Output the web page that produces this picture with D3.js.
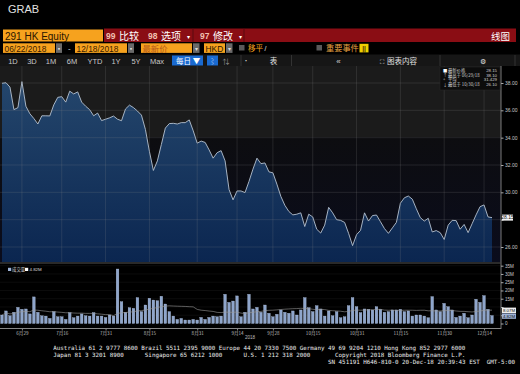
<!DOCTYPE html>
<html><head><meta charset="utf-8">
<script src="https://cdn.jsdelivr.net/npm/d3@7"></script>
<style>html,body{margin:0;padding:0;background:#000;overflow:hidden}</style>
</head><body><svg id="c" width="520" height="374"></svg>
<script>
// ---------------- DATA ----------------
const dates = [
"2018-06-22","2018-06-25","2018-06-26","2018-06-27","2018-06-28","2018-06-29",
"2018-07-03","2018-07-04","2018-07-05","2018-07-06","2018-07-09","2018-07-10","2018-07-11","2018-07-12","2018-07-13",
"2018-07-16","2018-07-17","2018-07-18","2018-07-19","2018-07-20","2018-07-23","2018-07-24","2018-07-25","2018-07-26","2018-07-27","2018-07-30","2018-07-31",
"2018-08-01","2018-08-02","2018-08-03","2018-08-06","2018-08-07","2018-08-08","2018-08-09","2018-08-10","2018-08-13","2018-08-14","2018-08-15","2018-08-16","2018-08-17",
"2018-08-20","2018-08-21","2018-08-22","2018-08-23","2018-08-24","2018-08-27","2018-08-28","2018-08-29","2018-08-30","2018-08-31",
"2018-09-03","2018-09-04","2018-09-05","2018-09-06","2018-09-07","2018-09-10","2018-09-11","2018-09-12","2018-09-13","2018-09-14",
"2018-09-17","2018-09-18","2018-09-19","2018-09-20","2018-09-21","2018-09-24","2018-09-26","2018-09-27","2018-09-28",
"2018-10-02","2018-10-03","2018-10-04","2018-10-05","2018-10-08","2018-10-09","2018-10-10","2018-10-11","2018-10-12","2018-10-15","2018-10-16",
"2018-10-18","2018-10-19","2018-10-22","2018-10-23","2018-10-24","2018-10-25","2018-10-26","2018-10-29","2018-10-30","2018-10-31",
"2018-11-01","2018-11-02","2018-11-05","2018-11-06","2018-11-07","2018-11-08","2018-11-09","2018-11-12","2018-11-13","2018-11-14","2018-11-15","2018-11-16",
"2018-11-19","2018-11-20","2018-11-21","2018-11-22","2018-11-23","2018-11-26","2018-11-27","2018-11-28","2018-11-29","2018-11-30",
"2018-12-03","2018-12-04","2018-12-05","2018-12-06","2018-12-07","2018-12-10","2018-12-11","2018-12-12","2018-12-13","2018-12-14","2018-12-17","2018-12-18"];

const prices = [
37.98,38.02,37.7,36.05,36.2,38.1,36.3,35.75,35.4,35.0,
35.6,35.6,35.59,36.4,36.95,37.0,36.6,37.4,37.2,37.35,
36.6,36.3,36.05,35.6,35.8,35.25,35.35,35.45,35.58,35.35,
35.24,36.1,36.38,36.2,35.95,35.65,34.6,33.0,31.6,32.3,
33.5,34.7,35.03,35.05,35.0,35.1,35.1,35.3,34.5,33.6,
33.75,33.65,33.1,32.5,32.9,33.05,32.3,30.2,29.45,30.1,
30.1,29.98,30.8,31.7,32.5,32.1,32.15,31.5,31.43,30.6,
29.7,29.05,28.6,28.35,28.4,28.5,27.5,28.4,28.2,27.3,
27.02,27.6,28.9,28.5,28.0,27.95,27.8,27.0,26.1,26.9,
27.22,28.5,27.9,28.3,28.34,27.85,27.35,27.0,27.4,27.8,
29.2,29.6,29.73,29.5,28.8,28.15,27.9,28.1,27.1,27.2,
27.05,26.55,27.6,27.95,27.93,27.3,27.65,27.05,27.7,28.35,
28.95,29.08,28.2,28.15];

// volume, millions of shares
const volumes = [
5.15,7.6,4.7,6.8,9.8,8.6,8.8,5.8,16.1,6.8,
4.7,4.5,3.1,7.2,4.1,4.1,2.5,6.6,3.5,4.5,
5.8,4.7,4.5,6.6,4.5,4.5,3.7,5.15,4.5,33.0,
13.2,6.8,9.6,9.2,15.7,7.2,11.2,15.3,14.2,13.8,
16.5,11.8,7.2,4.5,2.5,3.1,2.1,2.1,2.5,2.1,
3.7,2.5,3.7,4.5,4.1,4.5,17.7,12.8,13.6,16.7,
4.1,6.8,17.7,8.8,9.8,
6.8,11.2,6.2,4.1,5.6,8.2,6.8,6.2,7.6,5.15,
8.2,15.7,9.6,7.2,10.8,8.8,4.5,7.6,4.7,7.2,
3.5,4.1,10.8,15.7,10.2,6.6,8.8,8.6,8.2,10.2,
8.6,6.8,7.2,8.2,8.2,8.6,7.2,7.6,4.5,5.15,
5.15,4.5,3.5,16.3,8.2,7.2,12.2,10.2,8.2,3.7,
4.5,6.2,3.5,5.15,14.7,12.8,16.9,8.6,4.82];

const xTickDates = ["2018-06-29","2018-07-16","2018-07-31","2018-08-15","2018-08-31","2018-09-14","2018-09-28","2018-10-15","2018-10-31","2018-11-15","2018-11-30","2018-12-14"];
const xTickLabels = ["6月29","7月16","7月31","8月15","8月31","9月14","9月28","10月15","10月31","11月15","11月30","12月14"];
const priceTicks = [26,28,30,32,34,36,38];
const priceTickLabels = ["26.00","","30.00","32.00","34.00","36.00","38.00"]; // 28.00 hidden by last-price tag
const volTicks = [0,5,10,15,20,25,30,35];
const volTickLabels = ["0","","","15M","20M","25M","30M","35M"]; // 5M/10M hidden by value tags
const legendRows = [
  {sym:"■", label:"最新价格", value:"28.15"},
  {sym:"↑", label:"最高于 06/29/18", value:"38.10"},
  {sym:"+", label:"平均", value:"31.429"},
  {sym:"↓", label:"最低于 10/30/18", value:"26.10"}];
const periodButtons = ["1D","3D","1M","6M","YTD","1Y","5Y","Max"];
const footer1 = "Australia 61 2 9777 8600 Brazil 5511 2395 9000 Europe 44 20 7330 7500 Germany 49 69 9204 1210 Hong Kong 852 2977 6000";
const footer2 = "Japan 81 3 3201 8900      Singapore 65 6212 1000      U.S. 1 212 318 2000       Copyright 2018 Bloomberg Finance L.P.";
const footer3 = "SN 451191 H646-810-0 20-Dec-18 20:39:43 EST  GMT-5:00";

// ---------------- DRAW ----------------
const svg = d3.select("#c");
const CJK = "'Noto Sans CJK SC','Liberation Sans',Arial,sans-serif";
const SANS = "'Liberation Sans',Arial,'Noto Sans CJK SC',sans-serif";
const MONO = "'DejaVu Sans Mono','Liberation Mono',monospace";
function T(g,x,y,s,size,fill,opt={}){
  const t=g.append("text").attr("x",x).attr("y",y).text(s)
   .attr("font-size",size).attr("fill",fill).attr("font-family",opt.ff||CJK);
  if(opt.anchor) t.attr("text-anchor",opt.anchor);
  if(opt.weight) t.attr("font-weight",opt.weight);
  if(opt.len) t.attr("textLength",opt.len).attr("lengthAdjust","spacingAndGlyphs");
  if(opt.pre) t.style("white-space","pre");
  return t;
}
svg.append("rect").attr("width",520).attr("height",374).attr("fill","#000");

const defs = svg.append("defs");
const ag = defs.append("linearGradient").attr("id","ag").attr("x1",0).attr("y1",0).attr("x2",0).attr("y2",1);
ag.append("stop").attr("offset","0%").attr("stop-color","#24466c");
ag.append("stop").attr("offset","100%").attr("stop-color","#0b2650");
const bg = defs.append("linearGradient").attr("id","bg").attr("x1",0).attr("y1",0).attr("x2",0).attr("y2",1);
bg.append("stop").attr("offset","0%").attr("stop-color","#0d0d10");
bg.append("stop").attr("offset","100%").attr("stop-color","#0a0c1c");

// header
const hd = svg.append("g");
T(hd,8,12.5,"GRAB",11,"#e2e2e2",{ff:SANS});
hd.append("rect").attr("x",3).attr("y",29.5).attr("width",100).attr("height",12).attr("fill","#f6a21e");
T(hd,5,39.5,"291 HK Equity",10,"#2a1500",{ff:SANS});
hd.append("rect").attr("x",104).attr("y",28.5).attr("width",412).attr("height",13.5).attr("fill","#8a0d14");
[[106,"99","比较",false],[148,"98","选项",true],[200,"97","修改",true]].forEach(([xx,n,s,dd])=>{
  T(hd,xx,39,n,8.5,"#f1c0b0",{ff:SANS,weight:"bold"});
  T(hd,xx+13,39.5,s,10,"#ffffff");
  if(dd) T(hd,xx+39,38.5,"▾",6,"#ffffff");
});
hd.append("line").attr("x1",193).attr("x2",193).attr("y1",28.5).attr("y2",42).attr("stroke","#5a0a0e");
hd.append("line").attr("x1",244).attr("x2",244).attr("y1",28.5).attr("y2",42).attr("stroke","#5a0a0e");
T(hd,510,39.5,"线图",9.5,"#ffffff",{anchor:"end"});

// row 2
const r2y=43.3, r2h=9.6;
function obox(x,w,txt,col){hd.append("rect").attr("x",x).attr("y",r2y).attr("width",w).attr("height",r2h).attr("fill","#f6a21e");
  T(hd,x+1.5,r2y+8.2,txt,8.4,col,{ff:SANS});}
function gbox(x,w,glyph){hd.append("rect").attr("x",x).attr("y",r2y).attr("width",w).attr("height",r2h).attr("fill","#6a6a6a");
  T(hd,x+w/2,r2y+7.4,glyph,6,"#dddddd",{anchor:"middle"});}
obox(3,52,"06/22/2018","#3a1c00"); gbox(56,6,"▪");
T(hd,68,r2y+7.5,"-",8,"#dddddd",{ff:SANS});
obox(75,52,"12/18/2018","#3a1c00"); gbox(128,6,"▪");
obox(141,51,"最新价","#b4561a"); gbox(193,6.5,"▾");
obox(204,21,"HKD","#2a1500"); gbox(226,6.5,"▾");
hd.append("rect").attr("x",239).attr("y",45).attr("width",5.5).attr("height",5.5).attr("fill","#5a5a5a");
T(hd,248,r2y+8,"移平",7.6,"#f6a21e");
T(hd,264.5,r2y+8,"/",7,"#e0e0e0",{ff:SANS});
hd.append("rect").attr("x",316.5).attr("y",45).attr("width",5.5).attr("height",5.5).attr("fill","#5a5a5a");
T(hd,326,r2y+8,"重要事件",8.2,"#e8a040");
hd.append("rect").attr("x",359.5).attr("y",r2y+0.5).attr("width",9).attr("height",r2h-1).attr("fill","#f0d000");
T(hd,364,r2y+7.5,"||",6.5,"#3a3000",{anchor:"middle",ff:SANS,weight:"bold"});

// row 3 toolbar
hd.append("rect").attr("x",0).attr("y",54.5).attr("width",520).attr("height",11.5).attr("fill","#161616");
const pbx=[13,32,51,72,95,116,136,157];
periodButtons.forEach((b,i)=>T(hd,pbx[i],63.5,b,7.5,"#c8c8c8",{ff:SANS,anchor:"middle"}));
hd.append("rect").attr("x",172).attr("y",55.5).attr("width",31).attr("height",10).attr("fill","#1a6ad0");
T(hd,176,63.5,"每日 ▼",7.5,"#ffffff");
hd.append("rect").attr("x",207).attr("y",55.5).attr("width",11).attr("height",10).attr("fill","#1a6ad0");
T(hd,212.5,63.5,"⌇",7,"#cfe0ff",{anchor:"middle"});
T(hd,226,63.5,"⇅",7,"#9a9a9a",{anchor:"middle"});
T(hd,246,62.5,"•",6,"#dddddd",{anchor:"middle"});
[241,291.5,440,515].forEach(sx=>hd.append("line").attr("x1",sx).attr("x2",sx).attr("y1",55).attr("y2",66).attr("stroke","#333"));
T(hd,273.5,63.5,"表",7.5,"#e0e0e0",{anchor:"middle"});
T(hd,338.5,63.5,"«",8,"#d0d0d0",{anchor:"middle",ff:SANS});
T(hd,381.5,63.5,"⛶",6,"#e0e0e0",{anchor:"middle"});
T(hd,387,63.5,"图表内容",7.5,"#e0e0e0");
T(hd,482.5,63.5,"⚙",7,"#e0e0e0",{anchor:"middle"});

// ---------------- PRICE PANEL ----------------
const PT=66, PB=262, AX=501;
const x = d3.scalePoint().domain(dates).range([2,492]);
const y = d3.scaleLinear().domain([26,38]).range([247,83]);
const yv = d3.scaleLinear().domain([0,35]).range([323.5,265.7]);

const pg = svg.append("g");
pg.append("rect").attr("x",0).attr("y",PT).attr("width",AX).attr("height",137-PT).attr("fill","#1b1b1b");
pg.append("rect").attr("x",0).attr("y",137).attr("width",AX).attr("height",PB-137).attr("fill","url(#bg)");

const data = dates.map((d,i)=>({d, p:prices[i], v:volumes[i]}));
pg.append("path").datum(data)
  .attr("d", d3.area().x(d=>x(d.d)).y0(PB).y1(d=>y(d.p)))
  .attr("fill","url(#ag)");

// grid
const grid = svg.append("g");
priceTicks.forEach(t=>grid.append("line").attr("x1",0).attr("x2",AX).attr("y1",y(t)).attr("y2",y(t))
  .attr("stroke","#8a8a8a").attr("stroke-opacity",0.28).attr("stroke-width",0.7));
xTickDates.forEach(t=>grid.append("line").attr("x1",x(t)).attr("x2",x(t)).attr("y1",PT).attr("y2",PB)
  .attr("stroke","#8a8a8a").attr("stroke-opacity",0.28).attr("stroke-width",0.7));

pg.append("path").datum(data)
  .attr("d", d3.line().x(d=>x(d.d)).y(d=>y(d.p)))
  .attr("fill","none").attr("stroke","#b7c3d1").attr("stroke-width",0.9);

// price axis
const pax = svg.append("g").attr("transform",`translate(${AX},0)`)
  .call(d3.axisRight(y).tickValues(priceTicks).tickSize(2.5).tickPadding(1.5).tickFormat((d,i)=>priceTickLabels[i]));
pax.select(".domain").remove();
pax.selectAll("line").attr("stroke","#aaa");
pax.selectAll("text").attr("font-size",5).attr("fill","#c8c8c8").attr("font-family",SANS);
svg.append("line").attr("x1",AX).attr("x2",AX).attr("y1",PT).attr("y2",329).attr("stroke","#9a9a9a").attr("stroke-width",0.8);

// last price tag
const last = prices[prices.length-1];
svg.append("rect").attr("x",AX+1).attr("y",y(last)-3).attr("width",11).attr("height",6).attr("fill","#f2f2f2");
T(svg,AX+6.5,y(last)+1.8,last.toFixed(2),5,"#111",{anchor:"middle",ff:SANS});

// legend box
const lg = svg.append("g");
lg.append("rect").attr("x",440).attr("y",67).attr("width",60).attr("height",23).attr("fill","#0c0c0c").attr("stroke","#2a2a2a").attr("stroke-width",0.5);
legendRows.forEach((r,i)=>{
  const yy = 72 + i*4.7;
  T(lg,443,yy,r.sym,4.3,i===0?"#ffffff":"#bbbbbb");
  T(lg,448,yy,r.label,4.3,"#d0d0d0");
  T(lg,497,yy,r.value,4.3,"#d0d0d0",{anchor:"end",ff:SANS});
});

// ---------------- VOLUME PANEL ----------------
const vg = svg.append("g");
vg.append("line").attr("x1",0).attr("x2",AX).attr("y1",263).attr("y2",263).attr("stroke","#555").attr("stroke-width",1);
volTicks.slice(1).forEach(t=>vg.append("line").attr("x1",0).attr("x2",AX).attr("y1",yv(t)).attr("y2",yv(t))
  .attr("stroke","#8a8a8a").attr("stroke-opacity",0.15).attr("stroke-width",0.6));
vg.selectAll("rect.bar").data(data).enter().append("rect").attr("class","bar")
  .attr("x",d=>x(d.d)-1.35).attr("width",2.7)
  .attr("y",d=>yv(d.v)).attr("height",d=>yv(0)-yv(d.v))
  .attr("fill","#8ea5cb").attr("stroke","#b6c6e2").attr("stroke-width",0.3);
// 20-day moving average of the volume
const ma = data.map((d,i)=>{const s=data.slice(Math.max(0,i-19),i+1);return {d:d.d,m:d3.mean(s,e=>e.v)};});
vg.append("path").datum(ma).attr("d",d3.line().x(d=>x(d.d)).y(d=>yv(d.m)))
  .attr("fill","none").attr("stroke","#9a9a9a").attr("stroke-width",0.6);

const vax = svg.append("g").attr("transform",`translate(${AX},0)`)
  .call(d3.axisRight(yv).tickValues(volTicks).tickSize(2.5).tickPadding(1.5).tickFormat((d,i)=>volTickLabels[i]));
vax.select(".domain").remove();
vax.selectAll("line").attr("stroke","#aaa");
vax.selectAll("text").attr("font-size",4.6).attr("fill","#c8c8c8").attr("font-family",SANS);
// volume value tags
const lastMA = ma[ma.length-1].m, lastV = volumes[volumes.length-1];
svg.append("rect").attr("x",AX+1).attr("y",307.6).attr("width",14).attr("height",5.4).attr("fill","#eeeeee");
T(svg,AX+8,312,lastMA.toFixed(2)+"M",4.4,"#111",{anchor:"middle",ff:SANS});
svg.append("rect").attr("x",AX+1).attr("y",313.4).attr("width",14).attr("height",5.4).attr("fill","#9fb4d8");
T(svg,AX+8,317.8,lastV.toFixed(2)+"M",4.4,"#111",{anchor:"middle",ff:SANS});

// volume legend
vg.append("rect").attr("x",8).attr("y",267.8).attr("width",3.2).attr("height",3.2).attr("fill","#9fb4d8");
T(vg,12,271,"成交量",4.4,"#d8d8d8");
vg.append("rect").attr("x",25).attr("y",267.8).attr("width",3.2).attr("height",3.2).attr("fill","#ffffff");
T(vg,29.5,271,lastV.toFixed(2)+"M",4.4,"#d8d8d8",{ff:SANS});

// x axis
const xax = svg.append("g").attr("transform","translate(0,328.5)")
  .call(d3.axisBottom(x).tickValues(xTickDates).tickSize(2).tickPadding(1).tickFormat((d,i)=>xTickLabels[i]));
xax.select(".domain").attr("stroke","#888").attr("d","M0,0H"+AX);
xax.selectAll("line").attr("stroke","#888");
xax.selectAll("text").attr("font-size",4.6).attr("fill","#bdbdbd").attr("font-family",CJK);
T(svg,250,339,"2018",4.6,"#bdbdbd",{anchor:"middle",ff:SANS});

// footer
T(svg,53.3,349.5,footer1,5.85,"#ededed",{ff:MONO,len:412,pre:true});
T(svg,53.3,356.8,footer2,5.85,"#ededed",{ff:MONO,len:412,pre:true});
T(svg,328,364,footer3,5.85,"#ededed",{ff:MONO,len:187,pre:true});
</script></body></html>
